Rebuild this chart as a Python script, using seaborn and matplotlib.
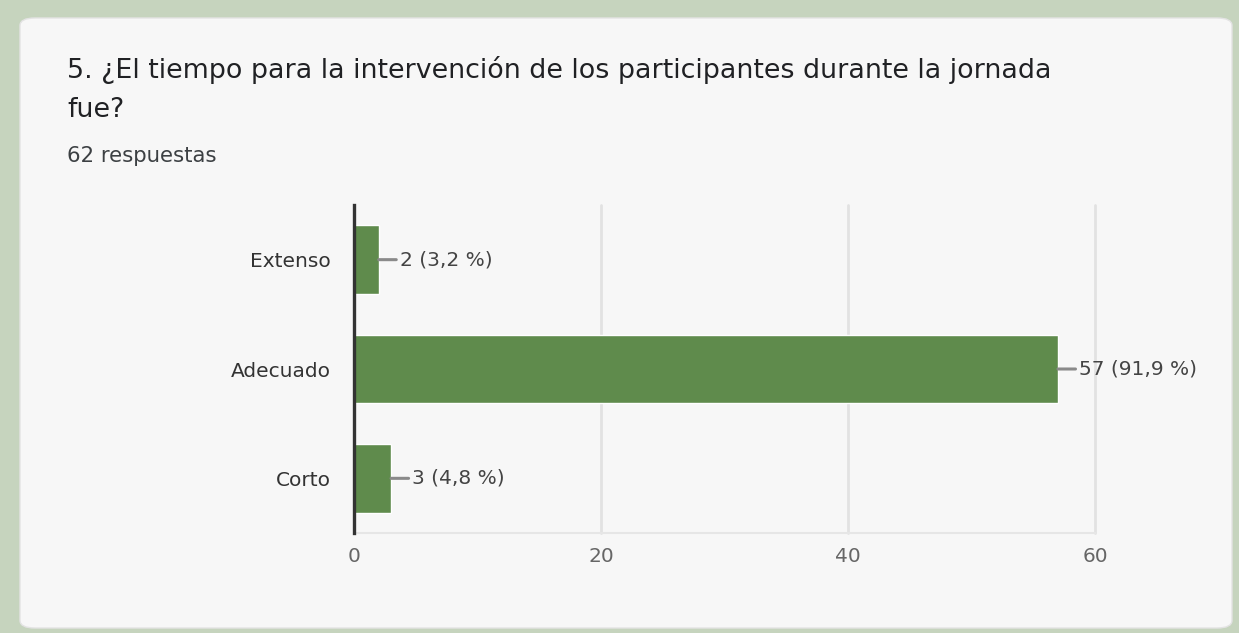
import matplotlib
matplotlib.use("Agg")
import matplotlib.pyplot as plt
from matplotlib.patches import FancyBboxPatch
import seaborn as sns

# survey data
categories = ["Extenso", "Adecuado", "Corto"]
counts = [2, 57, 3]
percents = ["3,2", "91,9", "4,8"]
x_ticks = [0, 20, 40, 60]

title_lines = ["5. ¿El tiempo para la intervención de los participantes durante la jornada", "fue?"]
subtitle = "62 respuestas"

bar_color = "#5f8b4c"
card_color = "#f7f7f7"

sns.set_theme(style="white")
plt.rcParams["font.family"] = ["DejaVu Sans"]

W, H = 1239, 633
fig = plt.figure(figsize=(W / 100, H / 100), dpi=100)
fig.patch.set_facecolor("#c6d4be")

# card behind everything
card = FancyBboxPatch((20 / W, 5 / H), 1212 / W, 610 / H,
                      boxstyle="round,pad=0,rounding_size=0.012",
                      transform=fig.transFigure, facecolor=card_color,
                      edgecolor="#e3e3e3", linewidth=1, zorder=-5)
fig.patches.append(card)


def fit_width(txt, target_px):
    # scale a text's font size so it spans target_px
    fig.canvas.draw()
    w = txt.get_window_extent().width
    txt.set_fontsize(txt.get_fontsize() * target_px / w)


t1 = fig.text(67 / W, 1 - 78 / H, title_lines[0], fontsize=16, color="#202124",
              ha="left", va="baseline")
t2 = fig.text(67 / W, 1 - 117 / H, title_lines[1], fontsize=16, color="#202124",
              ha="left", va="baseline")
st = fig.text(67 / W, 1 - 162 / H, subtitle, fontsize=12, color="#3c4043",
              ha="left", va="baseline")
fit_width(t1, 988)
t2.set_fontsize(t1.get_fontsize())
fit_width(st, 150)

ax = fig.add_axes([354 / W, 1 - 533 / H, (1095 - 354) / W, (533 - 205) / H])
ax.set_facecolor(card_color)

sns.barplot(x=counts, y=categories, orient="h", color=bar_color,
            width=0.63, saturation=1, ax=ax, zorder=3)

ax.set_xlim(0, 60)
ax.set_ylim(2.5, -0.5)
ax.set_xticks(x_ticks)
ax.set_xticklabels([str(t) for t in x_ticks], fontsize=14.5, color="#666666")
ax.tick_params(axis="y", labelsize=14.5, colors="#333333", length=0, pad=17)
ax.tick_params(axis="x", length=0, pad=10)
ax.set_xlabel("")
ax.set_ylabel("")

for t in x_ticks[1:]:
    ax.axvline(t, color="#e2e2e2", lw=2, zorder=1, clip_on=False)

for s in ["top", "right"]:
    ax.spines[s].set_visible(False)
ax.spines["bottom"].set_color("#e6e6e6")
ax.spines["bottom"].set_linewidth(1.5)
ax.spines["left"].set_color("#333333")
ax.spines["left"].set_linewidth(2.4)
ax.spines["left"].set_zorder(5)

# value labels with a short leader line
for i, (v, p) in enumerate(zip(counts, percents)):
    ax.annotate(f"{v} ({p} %)", xy=(v, i), xytext=(15, 0),
                textcoords="offset points", ha="left", va="center",
                fontsize=14.5, color="#444444",
                arrowprops=dict(arrowstyle="-", color="#8a8a8a", lw=2.2,
                                shrinkA=0, shrinkB=0, relpos=(0, 0.5)))

fig.savefig("out.png", dpi=100, facecolor=fig.get_facecolor())
